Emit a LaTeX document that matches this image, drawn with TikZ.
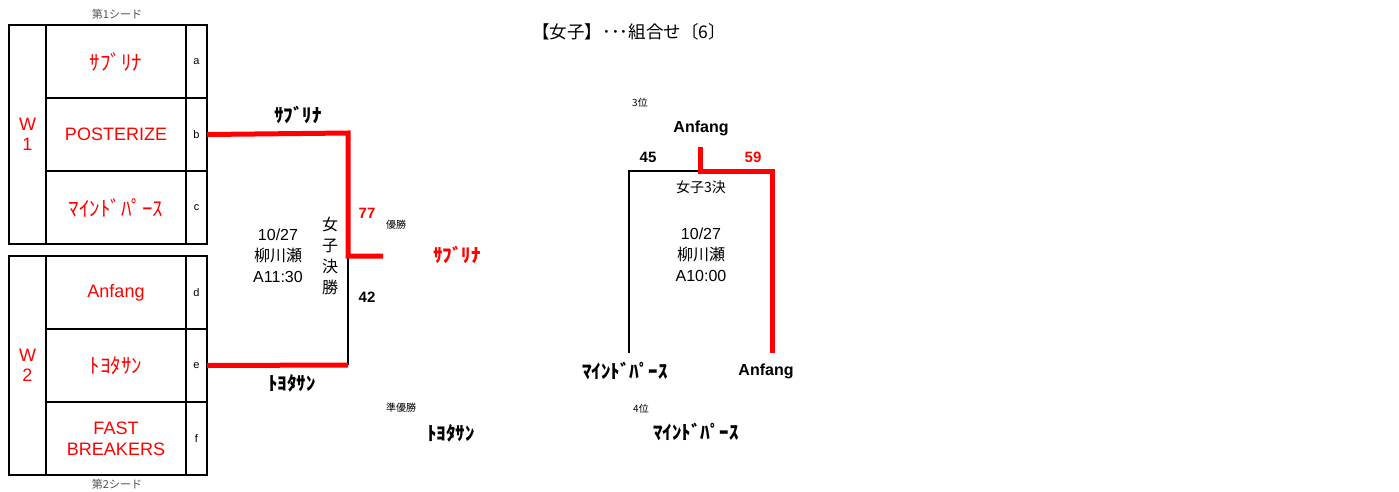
\documentclass[tikz,border=0pt]{standalone}
\usepackage{fontspec}
\setmainfont{Liberation Sans}
\newfontfamily\jp{Noto Sans CJK JP}
\definecolor{tred}{RGB}{255,0,0}
\definecolor{sgrey}{RGB}{80,80,80}
\newcommand{\kana}[1]{{\jp\fontsize{21}{23}\selectfont #1}}
\begin{document}
\begin{tikzpicture}[x=1pt,y=-1pt,
  cell/.style={draw,line width=2pt,inner sep=0pt,outer sep=0pt,anchor=north west},
  team/.style={cell,minimum width=140pt,minimum height=73pt,text=tred,font=\fontsize{18}{21}\selectfont,align=center},
  letter/.style={cell,minimum width=21pt,minimum height=73pt,font=\fontsize{11}{13}\selectfont},
  wcell/.style={cell,minimum width=37pt,minimum height=219pt,text=tred,font=\fontsize{18}{20}\selectfont,align=center},
  seed/.style={text=sgrey,font=\jp\fontsize{11}{13}\selectfont},
  blabel/.style={font=\jp\bfseries\fontsize{19}{21}\selectfont,inner sep=0pt},
  alabel/.style={font=\bfseries\fontsize{16}{18}\selectfont,inner sep=0pt},
  score/.style={font=\bfseries\fontsize{15}{17}\selectfont,inner sep=0pt},
  small/.style={font=\jp\fontsize{10}{12}\selectfont,inner sep=0pt},
  info/.style={font=\fontsize{16}{21}\selectfont,align=center,inner sep=0pt},
  redline/.style={line width=5pt,draw=tred},
  blkline/.style={line width=2pt,draw=black}]
\useasboundingbox (0,0) rectangle (1399,491);
% title
\node[font=\jp\fontsize{17.5}{19}\selectfont,inner sep=0pt] (title) at (629,32) {【女子】･･･組合せ〔6〕};
% seeds
\node[seed] (s1) at (117,14) {第1シード};
\node[seed] (s2) at (117,484) {第2シード};
% group 1
\node[wcell] (w1) at (9,25) {W\\1};
\node[team] (ta) at (46,25) {\kana{ｻﾌﾞﾘﾅ}};
\node[team] (tb) at (46,98) {POSTERIZE};
\node[team] (tc) at (46,171) {\kana{ﾏｲﾝﾄﾞﾊﾟｰｽ}};
\node[letter] (la) at (186,25) {a};
\node[letter] (lb) at (186,98) {b};
\node[letter] (lc) at (186,171) {c};
% group 2
\node[wcell] (w2) at (9,256) {W\\2};
\node[team] (td) at (46,256) {Anfang};
\node[team] (te) at (46,329) {\kana{ﾄﾖﾀｻﾝ}};
\node[team] (tf) at (46,402) {FAST\\BREAKERS};
\node[letter] (ld) at (186,256) {d};
\node[letter] (le) at (186,329) {e};
\node[letter] (lf) at (186,402) {f};
% final bracket
\coordinate (ftop) at (348,133);
\coordinate (fmid) at (348,256);
\coordinate (fout) at (383,256);
\coordinate (fbot) at (348,365);
\draw[blkline] (fmid) -- (fbot);
\draw[redline] (lb.east) -- (ftop) -- (fmid) -- (fout);
\draw[redline] (le.east) -- (fbot);
\node[blabel] (n1) at (298,115) {ｻﾌﾞﾘﾅ};
\node[blabel] (n2) at (292,383) {ﾄﾖﾀｻﾝ};
\node[score,text=tred] (sc77) at (367,213) {77};
\node[score] (sc42) at (367,297) {42};
\node[small] (win) at (396,225) {優勝};
\node[blabel,text=tred] (champ) at (457,255) {ｻﾌﾞﾘﾅ};
\node[small] (ru) at (401,408) {準優勝};
\node[blabel] (runner) at (451,433) {ﾄﾖﾀｻﾝ};
\node[font=\jp\fontsize{16}{21}\selectfont,align=center,inner sep=0pt] (fname) at (330,256) {女\\子\\決\\勝};
\node[info] (finfo) at (278,256) {10/27\\{\jp 柳川瀬}\\A11:30};
% third place bracket
\coordinate (tl) at (629,171);
\coordinate (tlb) at (629,353);
\coordinate (tm) at (700,171);
\coordinate (tmt) at (700,147);
\coordinate (tr) at (772,171);
\coordinate (trb) at (772,353);
\draw[blkline] (tlb) -- (tl) -- (tm);
\draw[redline] (tmt) -- (tm) -- (tr) -- (trb);
\node[small] (p3) at (640,103) {3位};
\node[alabel] (third) at (701,128) {Anfang};
\node[score] (sc45) at (648,157) {45};
\node[score,text=tred] (sc59) at (753,157) {59};
\node[font=\jp\fontsize{14}{16}\selectfont,inner sep=0pt] (tname) at (701,187) {女子3決};
\node[info] (tinfo) at (701,255) {10/27\\{\jp 柳川瀬}\\A10:00};
\node[blabel] (tlname) at (625,371) {ﾏｲﾝﾄﾞﾊﾟｰｽ};
\node[alabel] (trname) at (766,371) {Anfang};
\node[small] (p4) at (641,409) {4位};
\node[blabel] (fourth) at (696,432) {ﾏｲﾝﾄﾞﾊﾟｰｽ};
\end{tikzpicture}
\end{document}
